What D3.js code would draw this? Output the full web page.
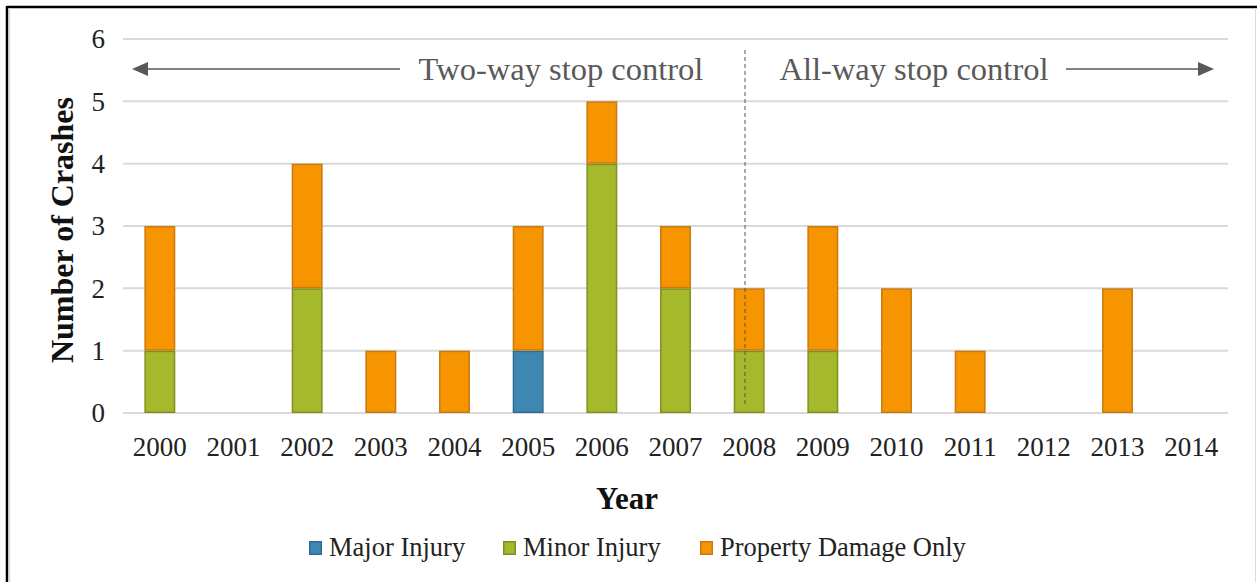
<!DOCTYPE html>
<html><head><meta charset="utf-8">
<script src="https://cdn.jsdelivr.net/npm/d3@7"></script>
<style>body{margin:0;background:#fff;} text{font-family:"Liberation Serif",serif !important;}</style>
</head><body>
<svg id="c" width="1257" height="582" font-family="Liberation Serif"></svg>
<script>
const years = ["2000","2001","2002","2003","2004","2005","2006","2007","2008","2009","2010","2011","2012","2013","2014"];
const majorInjury = [0,0,0,0,0,1,0,0,0,0,0,0,0,0,0];
const minorInjury = [1,0,2,0,0,0,4,2,1,1,0,0,0,0,0];
const propertyDamage = [2,0,2,1,1,2,1,1,1,2,2,1,0,2,0];
const seriesNames = ["Major Injury","Minor Injury","Property Damage Only"];
const yTicks = [0,1,2,3,4,5,6];
const fills = ["#3d87b2","#a6b82b","#f79500"];
const strokes = ["#2f6d92","#80901f","#c97a10"];
const FONT = "Liberation Serif";

const svg = d3.select("#c");
// frame
svg.append("rect").attr("x",0).attr("y",0).attr("width",1257).attr("height",582).attr("fill","#fff");
svg.append("line").attr("x1",7).attr("x2",1257).attr("y1",7).attr("y2",7).attr("stroke","#000").attr("stroke-width",2.5);
svg.append("line").attr("x1",7).attr("x2",7).attr("y1",6).attr("y2",582).attr("stroke","#000").attr("stroke-width",2.5);
svg.append("line").attr("x1",9.5).attr("x2",9.5).attr("y1",8).attr("y2",582).attr("stroke","#ddd").attr("stroke-width",1.5);
svg.append("line").attr("x1",1255.5).attr("x2",1255.5).attr("y1",8).attr("y2",582).attr("stroke","#ddd").attr("stroke-width",1);

const L = 123, R = 1228, T = 39, B = 413;
const x = d3.scaleBand().domain(years).range([L,R]).paddingInner(0.58).paddingOuter(0.29);
const y = d3.scaleLinear().domain([0,6]).range([B,T]);

// gridlines
svg.append("g").selectAll("line").data(yTicks).join("line")
  .attr("x1",L).attr("x2",R).attr("y1",d=>y(d)).attr("y2",d=>y(d))
  .attr("stroke","#d9d9d9").attr("stroke-width",2);

// y tick labels
const yAxis = d3.axisLeft(y).tickValues(yTicks).tickSize(0).tickPadding(0).tickFormat(d3.format("d"));
const gy = svg.append("g").attr("transform",`translate(${L-18},0)`).call(yAxis);
gy.attr("font-family",FONT);
gy.select(".domain").remove();
gy.selectAll("text").attr("font-size",27).attr("fill","#222").attr("font-family",FONT).attr("dy","0.33em");

// x tick labels
const xAxis = d3.axisBottom(x).tickSize(0).tickPadding(0);
const gx = svg.append("g").attr("transform",`translate(0,${B+43})`).call(xAxis);
gx.attr("font-family",FONT);
gx.select(".domain").remove();
gx.selectAll("text").attr("font-size",27).attr("fill","#222").attr("font-family",FONT).attr("dy","0");

// stacked data
const rows = years.map((yr,i)=>({year:yr, "Major Injury":majorInjury[i], "Minor Injury":minorInjury[i], "Property Damage Only":propertyDamage[i]}));
const stack = d3.stack().keys(seriesNames)(rows);
stack.forEach((s,si)=>{
  svg.append("g").selectAll("rect").data(s.filter(d=>d[1]-d[0]>0)).join("rect")
    .attr("x",d=>x(d.data.year)+0.75)
    .attr("width",x.bandwidth()-1.5)
    .attr("y",d=>y(d[1])+0.75)
    .attr("height",d=>y(d[0])-y(d[1])-1.5)
    .attr("fill",fills[si]).attr("stroke",strokes[si]).attr("stroke-width",1.5);
});

// dashed divider
svg.append("line").attr("x1",745).attr("x2",745).attr("y1",50).attr("y2",405)
  .attr("stroke","#555").attr("stroke-width",1).attr("stroke-dasharray","4,3");

// annotations
const ac = "#595959";
svg.append("text").attr("x",561).attr("y",80).attr("text-anchor","middle").attr("font-size",32.5).attr("font-family",FONT).attr("fill",ac).text("Two-way stop control");
svg.append("text").attr("x",914).attr("y",80).attr("text-anchor","middle").attr("font-size",32.5).attr("font-family",FONT).attr("fill",ac).text("All-way stop control");
svg.append("line").attr("x1",145).attr("x2",400).attr("y1",69).attr("y2",69).attr("stroke",ac).attr("stroke-width",1.5);
svg.append("path").attr("d","M132,69 L148,62 L148,76 Z").attr("fill",ac);
svg.append("line").attr("x1",1066).attr("x2",1202).attr("y1",69).attr("y2",69).attr("stroke",ac).attr("stroke-width",1.5);
svg.append("path").attr("d","M1214,69 L1198,62 L1198,76 Z").attr("fill",ac);

// axis titles
svg.append("text").attr("x",627).attr("y",509).attr("text-anchor","middle").attr("font-size",31).attr("font-weight","bold").attr("font-family",FONT).attr("fill","#111").text("Year");
svg.append("text").attr("transform","translate(73,230) rotate(-90)").attr("text-anchor","middle").attr("font-size",32).attr("font-weight","bold").attr("font-family",FONT).attr("fill","#111").text("Number of Crashes");

// legend
const legX = [309,503,700];
seriesNames.forEach((n,i)=>{
  svg.append("rect").attr("x",legX[i]+0.75).attr("y",541.75).attr("width",11.5).attr("height",12.5).attr("fill",fills[i]).attr("stroke",strokes[i]).attr("stroke-width",1.5);
  svg.append("text").attr("x",legX[i]+20).attr("y",556).attr("font-size",26.5).attr("font-family",FONT).attr("fill","#222").text(n);
});
</script>
</body></html>
